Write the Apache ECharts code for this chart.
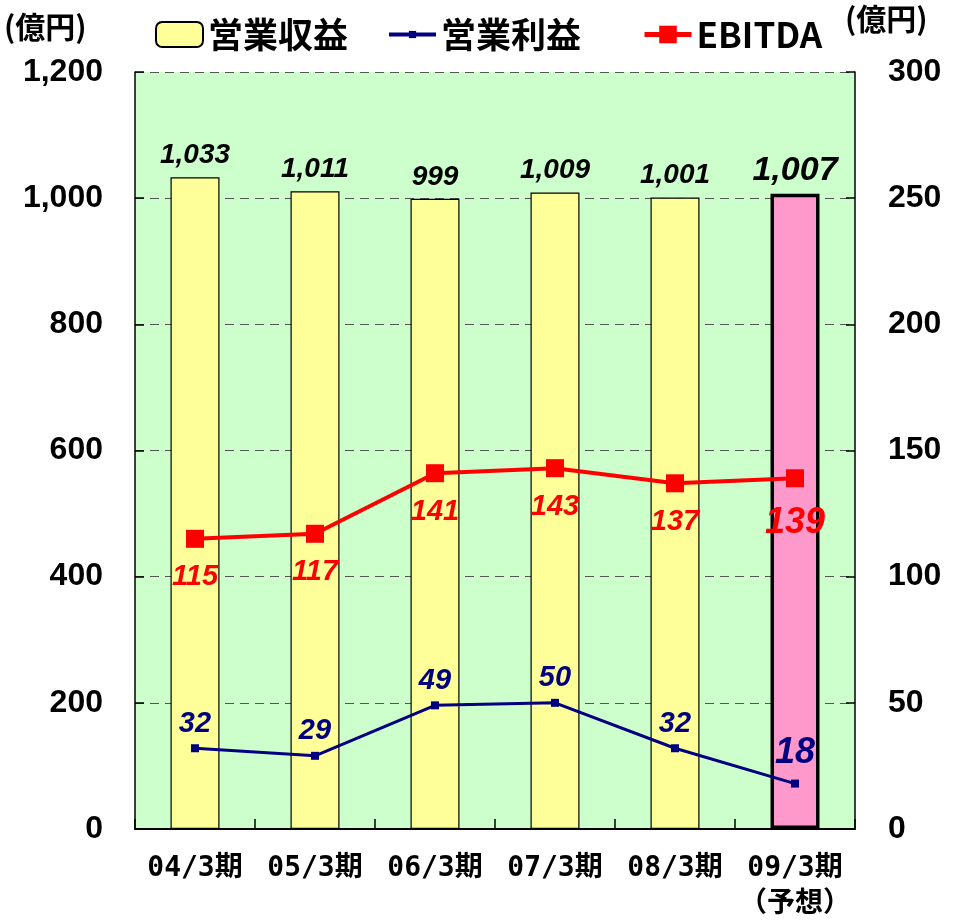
<!DOCTYPE html>
<html>
<head>
<meta charset="utf-8">
<script src="https://cdn.jsdelivr.net/npm/echarts@6/dist/echarts.min.js"></script>
<style>
  html, body { margin: 0; padding: 0; background: #fff; }
  #chart { width: 963px; height: 921px; }
</style>
</head>
<body>
<div id="chart"></div>
<script>
// periods (x axis)
const periods = ["04/3期", "05/3期", "06/3期", "07/3期", "08/3期", "09/3期\n（予想）"];
// 営業収益 (left axis, 億円)
const revenue = [1033, 1011, 999, 1009, 1001, 1007];
// 営業利益 (right axis, 億円)
const operatingProfit = [32, 29, 49, 50, 32, 18];
// EBITDA (right axis, 億円)
const ebitda = [115, 117, 141, 143, 137, 139];

const leftTicks = { min: 0, max: 1200, interval: 200 };
const rightTicks = { min: 0, max: 300, interval: 50 };

const numFont = "Liberation Sans";
const jpFont = "Noto Sans CJK JP";
const lastIdx = periods.length - 1;

const fmt = (v) => v.toLocaleString("en-US");

const chart = echarts.init(document.getElementById("chart"));

const gridLine = {
  show: true,
  lineStyle: { color: "#555", type: [9, 6], width: 1.2 }
};

const legendText = { fontFamily: jpFont, fontSize: 35, fontWeight: "bold", color: "#000" };

chart.setOption({
  backgroundColor: "#fff",
  animation: false,
  grid: {
    left: 135,
    right: 108,
    top: 72,
    bottom: 92,
    outerBoundsMode: "none",
    containLabel: false,
    show: true,
    backgroundColor: "#CCFFCC",
    borderWidth: 0
  },
  legend: [
    {
      top: 12, left: 150, itemWidth: 47, itemHeight: 25,
      textStyle: legendText, data: ["営業収益"]
    },
    {
      top: 12, left: 382, itemWidth: 47, itemHeight: 9,
      lineStyle: { width: 4 },
      textStyle: legendText, data: ["営業利益"]
    },
    {
      top: 12, left: 637, itemWidth: 47, itemHeight: 22,
      lineStyle: { width: 5 },
      textStyle: legendText, data: ["EBITDA"]
    }
  ],
  graphic: [
    {
      type: "text", left: 4, top: 12,
      style: { text: "(億円)", font: "bold 30px 'Noto Sans CJK JP'", fill: "#000" }
    },
    {
      type: "text", left: 845, top: 4,
      style: { text: "(億円)", font: "bold 30px 'Noto Sans CJK JP'", fill: "#000" }
    }
  ],
  xAxis: {
    type: "category",
    data: periods,
    axisLine: { lineStyle: { color: "#000", width: 2 } },
    axisTick: { show: true, inside: true, length: 10, lineStyle: { color: "#000", width: 1.5 } },
    axisLabel: {
      interval: 0,
      margin: 22,
      color: "#000",
      fontFamily: "'DejaVu Sans Mono', 'Noto Sans CJK JP'",
      fontWeight: "bold",
      fontSize: 28,
      lineHeight: 36
    }
  },
  yAxis: [
    {
      type: "value",
      min: leftTicks.min,
      max: leftTicks.max,
      interval: leftTicks.interval,
      axisLine: { show: true, lineStyle: { color: "#000", width: 1.5 } },
      axisTick: { show: true, inside: true, length: 9, lineStyle: { color: "#000", width: 1.5 } },
      splitLine: gridLine,
      axisLabel: {
        margin: 32,
        color: "#000",
        fontFamily: numFont,
        fontWeight: "bold",
        fontSize: 32,
        formatter: (v) => fmt(v)
      }
    },
    {
      type: "value",
      min: rightTicks.min,
      max: rightTicks.max,
      interval: rightTicks.interval,
      axisLine: { show: true, lineStyle: { color: "#000", width: 1.5 } },
      axisTick: { show: true, inside: true, length: 9, lineStyle: { color: "#000", width: 1.5 } },
      splitLine: { show: false },
      axisLabel: {
        margin: 33,
        color: "#000",
        fontFamily: numFont,
        fontWeight: "bold",
        fontSize: 32
      }
    }
  ],
  series: [
    {
      name: "営業収益",
      type: "bar",
      yAxisIndex: 0,
      barWidth: 49,
      itemStyle: { color: "#FFFF99", borderColor: "#000", borderWidth: 1.2 },
      label: {
        show: true,
        position: "top",
        distance: 8,
        color: "#000",
        fontFamily: numFont,
        fontStyle: "italic",
        fontWeight: "bold",
        fontSize: 28,
        formatter: (p) => fmt(p.value)
      },
      data: revenue.map((v, i) => i === lastIdx
        ? {
            value: v,
            itemStyle: { color: "#FF99CC", borderColor: "#000", borderWidth: 3.5 },
            label: { fontSize: 34, distance: 6 }
          }
        : v)
    },
    {
      name: "営業利益",
      type: "line",
      yAxisIndex: 1,
      z: 5,
      symbol: "rect",
      symbolSize: 8,
      lineStyle: { color: "#000080", width: 3 },
      itemStyle: { color: "#000080" },
      label: {
        show: true,
        position: "top",
        distance: 6,
        color: "#000080",
        fontFamily: numFont,
        fontStyle: "italic",
        fontWeight: "bold",
        fontSize: 29
      },
      data: operatingProfit.map((v, i) => i === lastIdx
        ? { value: v, label: { fontSize: 36, distance: 9 } }
        : v)
    },
    {
      name: "EBITDA",
      type: "line",
      yAxisIndex: 1,
      z: 6,
      symbol: "rect",
      symbolSize: 18,
      lineStyle: { color: "#FF0000", width: 4 },
      itemStyle: { color: "#FF0000" },
      label: {
        show: true,
        position: "bottom",
        distance: 15,
        color: "#FF0000",
        fontFamily: numFont,
        fontStyle: "italic",
        fontWeight: "bold",
        fontSize: 29
      },
      data: ebitda.map((v, i) => i === lastIdx
        ? { value: v, label: { fontSize: 36, distance: 18 } }
        : v)
    }
  ]
});
</script>
</body>
</html>
